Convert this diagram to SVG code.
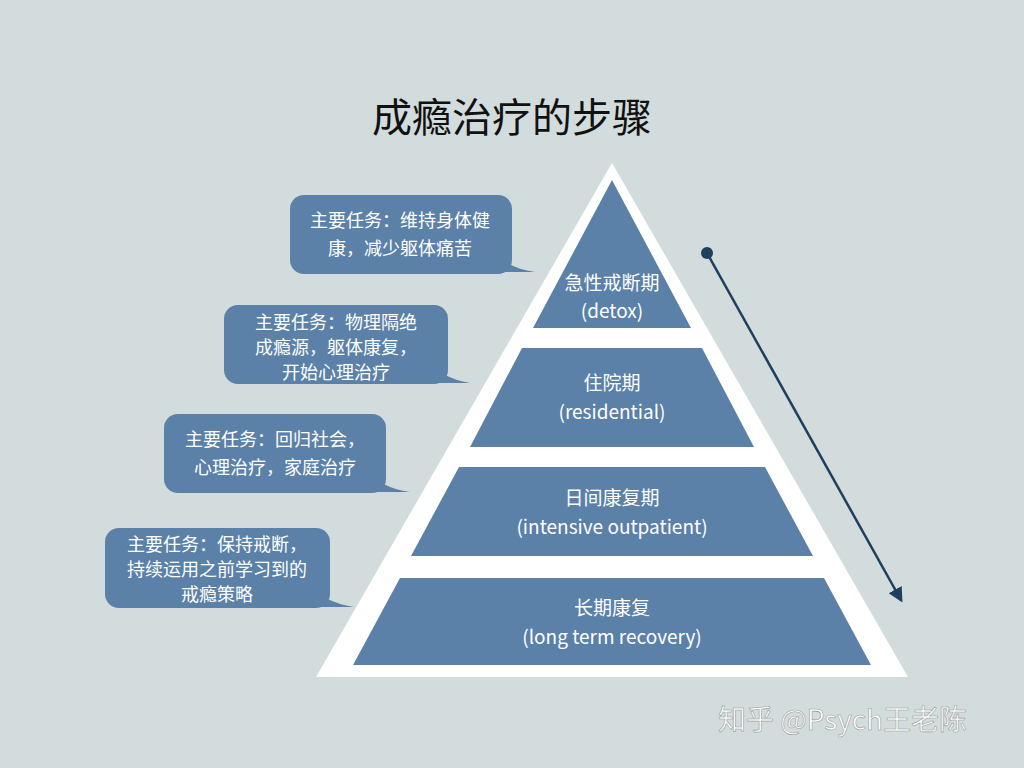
<svg xmlns="http://www.w3.org/2000/svg" width="1024" height="768" viewBox="0 0 1024 768">
<style>
.b{fill:#5b81a9}
.t{fill:#fff;font-family:"Noto Sans CJK SC","Noto Sans",sans-serif;font-size:18px;text-anchor:middle}
.p{fill:#fff;font-family:"Noto Sans CJK SC","Noto Sans",sans-serif;font-size:19px;text-anchor:middle}
</style>
<defs><marker id="ah" viewBox="0 0 10 10" refX="8" refY="5" markerWidth="6" markerHeight="6" orient="auto"><path d="M0,0L10,5L0,10z" fill="#1f3f5f"/></marker></defs>
<rect width="1024" height="768" fill="#d3dcdc"/>
<text x="512" y="132" text-anchor="middle" font-family="Noto Sans CJK SC,sans-serif" font-size="40" fill="#111">成瘾治疗的步骤</text>
<polygon points="612,163 316,677 908,677" fill="#fff"/>
<g id="n1"><polygon class="b" points="612,180 533,328 691,328"/><text class="p" x="612" y="290">急性戒断期</text><text class="p" x="612" y="318">(detox)</text></g>
<g id="n2"><polygon class="b" points="522,348 702,348 754,447 470,447"/><text class="p" x="612" y="390">住院期</text><text class="p" x="612" y="419">(residential)</text></g>
<g id="n3"><polygon class="b" points="459,467 765,467 813,556 411,556"/><text class="p" x="612" y="505">日间康复期</text><text class="p" x="612" y="534">(intensive outpatient)</text></g>
<g id="n4"><polygon class="b" points="400,578 824,578 871,665 353,665"/><text class="p" x="612" y="615">长期康复</text><text class="p" x="612" y="644">(long term recovery)</text></g>
<g id="c1"><rect class="b" x="290" y="195" width="222" height="79" rx="14"/><path class="b" d="M495,250 Q505,268 535,272 L490,272z"/><text class="t" x="400" y="227">主要任务：维持身体健</text><text class="t" x="400" y="255">康，减少躯体痛苦</text></g>
<g id="c2"><rect class="b" x="224" y="305" width="224" height="79" rx="14"/><path class="b" d="M430,360 Q440,378 470,383 L425,383z"/><text class="t" x="336" y="329">主要任务：物理隔绝</text><text class="t" x="336" y="354">成瘾源，躯体康复，</text><text class="t" x="336" y="379">开始心理治疗</text></g>
<g id="c3"><rect class="b" x="164" y="414" width="222" height="79" rx="14"/><path class="b" d="M370,470 Q380,488 410,492 L365,492z"/><text class="t" x="275" y="446">主要任务：回归社会，</text><text class="t" x="275" y="474">心理治疗，家庭治疗</text></g>
<g id="c4"><rect class="b" x="105" y="528" width="225" height="80" rx="14"/><path class="b" d="M312,584 Q322,602 354,607 L305,607z"/><text class="t" x="217" y="551">主要任务：保持戒断，</text><text class="t" x="217" y="576">持续运用之前学习到的</text><text class="t" x="217" y="601">戒瘾策略</text></g>
<g id="connectors"><circle cx="707" cy="253" r="6" fill="#1f3f5f"/><line x1="707" y1="253" x2="901" y2="600" stroke="#1f3f5f" stroke-width="2.5" marker-end="url(#ah)"/></g>
<text x="718" y="730" font-family="Noto Sans CJK SC,sans-serif" font-size="28" fill="#fff" stroke="#999" stroke-width="0.6">知乎 @Psych王老陈</text>
</svg>
